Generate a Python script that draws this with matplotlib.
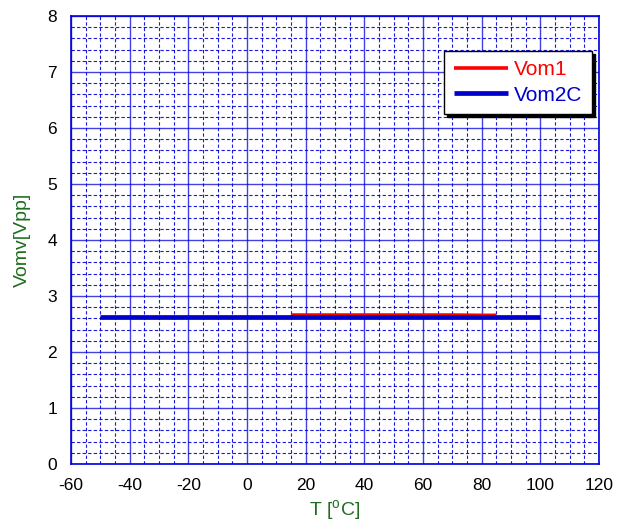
import numpy as np
from matplotlib import pyplot as plt
from matplotlib.ticker import MultipleLocator

plt.rcParams['font.family'] = ['Liberation Sans', 'DejaVu Sans']
plt.rcParams['axes.unicode_minus'] = False

# data
t_vom1 = [15, 20, 30, 40, 50, 60, 70, 80, 85]
vom1 = [2.66, 2.66, 2.66, 2.66, 2.66, 2.66, 2.66, 2.655, 2.655]

t_vom2c = [-50, -40, -30, -20, -10, 0, 10, 20, 30, 40, 50, 60, 70, 80, 90, 100]
vom2c = [2.62, 2.62, 2.62, 2.62, 2.62, 2.62, 2.62, 2.62, 2.62, 2.62, 2.62, 2.62, 2.62, 2.62, 2.62, 2.62]

grid_blue = '#0000dd'
label_green = '#1e6e1e'

fig = plt.figure(figsize=(6.18, 5.24), dpi=100)
ax = fig.add_axes([0.115, 0.1145, 0.854, 0.855])

ax.plot(t_vom1, vom1, color='#ff0000', lw=2.6, label='Vom1', solid_capstyle='butt', zorder=3)
ax.plot(t_vom2c, vom2c, color='#0000cc', lw=3.4, label='Vom2C', solid_capstyle='butt', zorder=4)

ax.set_xlim(-60, 120)
ax.set_ylim(0, 8)
ax.xaxis.set_major_locator(MultipleLocator(20))
ax.xaxis.set_minor_locator(MultipleLocator(5))
ax.yaxis.set_major_locator(MultipleLocator(1))
ax.yaxis.set_minor_locator(MultipleLocator(0.2))

ax.grid(True, which='major', color=grid_blue, lw=1.0, alpha=0.75)
ax.grid(True, which='minor', color=grid_blue, lw=0.8, linestyle=(0, (3, 2)), alpha=0.9)
ax.set_axisbelow(True)
for s in ax.spines.values():
    s.set_color(grid_blue)
    s.set_linewidth(1.2)

ax.tick_params(which='both', length=0, labelsize=12.5, pad=10)

ax.set_xlabel('T [$\\mathregular{^oC}$]', color=label_green, fontsize=14, labelpad=4)
ax.set_ylabel('Vomv[Vpp]', color=label_green, fontsize=14, labelpad=12)

leg = ax.legend(loc='upper right', bbox_to_anchor=(0.987, 0.922), fancybox=False,
                edgecolor='black', framealpha=1, labelcolor='linecolor',
                fontsize=15, handlelength=2.6, handletextpad=0.3, borderpad=0.45,
                labelspacing=0.3, borderaxespad=0,
                shadow={'color': 'black', 'alpha': 1})
leg.get_frame().set_linewidth(1.0)

plt.savefig('out.png', dpi=100)
